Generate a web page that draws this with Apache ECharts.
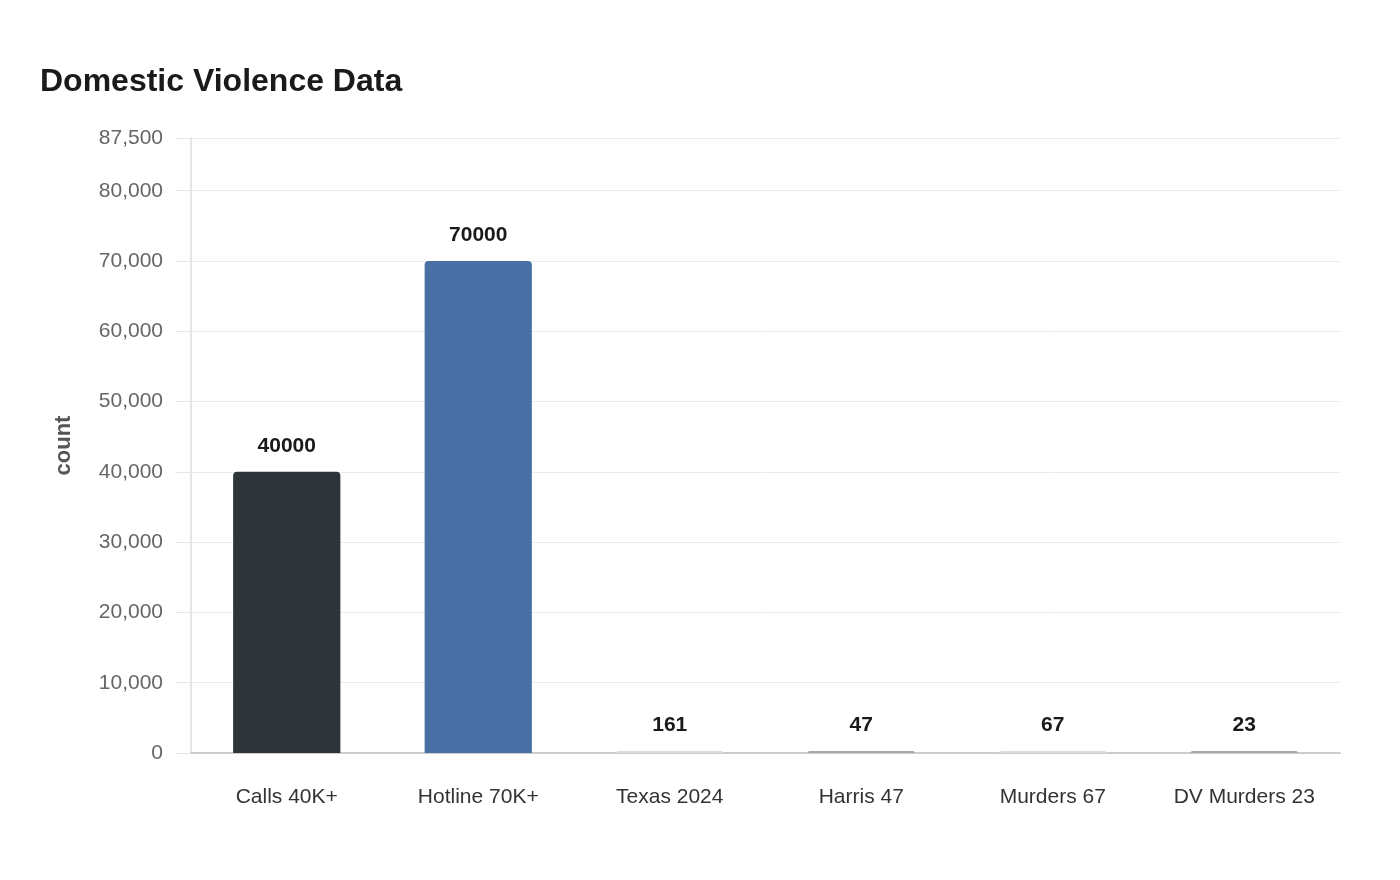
<!DOCTYPE html>
<html>
<head>
<meta charset="utf-8">
<title>Domestic Violence Data</title>
<script src="https://cdn.jsdelivr.net/npm/echarts@6/dist/echarts.min.js"></script>
<style>
	html, body { margin: 0; padding: 0; background: #fff; }
	#chart { width: 1400px; height: 880px; }
</style>
</head>
<body>
<div id="chart"></div>
<script>
// data
var categories = ['Calls 40K+', 'Hotline 70K+', 'Texas 2024', 'Harris 47', 'Murders 67', 'DV Murders 23'];
var counts = [40000, 70000, 161, 47, 67, 23];
var barColors = ['#2e3538', '#4a6fa5', '#dcdcdc', '#a8a8a8', '#dcdcdc', '#a8a8a8'];

var chart = echarts.init(document.getElementById('chart'));

var option = {
	animation: false,
	textStyle: {
		fontFamily: "'Liberation Sans', Arial, sans-serif"
	},
	title: {
		text: 'Domestic Violence Data',
		left: 40,
		top: 66,
		padding: 0,
		textStyle: {
			fontFamily: "'Liberation Sans', Arial, sans-serif",
			fontSize: 32,
			fontWeight: 'bold',
			color: '#1a1a1a'
		}
	},
	grid: {
		left: 191,
		right: 60,
		top: 138,
		bottom: 127
	},
	xAxis: {
		type: 'category',
		data: categories,
		axisLine: { lineStyle: { color: '#cccccc', width: 2 } },
		axisTick: { show: false },
		axisLabel: {
			fontSize: 21,
			color: '#333333',
			margin: 34
		}
	},
	yAxis: {
		type: 'value',
		min: 0,
		max: 87500,
		interval: 10000,
		name: 'count',
		nameLocation: 'middle',
		nameGap: 116,
		nameTextStyle: {
			fontSize: 22,
			fontWeight: 'bold',
			color: '#555555'
		},
		axisLine: { show: true, lineStyle: { color: '#e6e6e6', width: 2 } },
		axisTick: { show: true, length: 16, lineStyle: { color: '#e6e6e6' } },
		splitLine: { lineStyle: { color: '#ebebeb' } },
		axisLabel: {
			fontSize: 21,
			color: '#666666',
			margin: 28,
			formatter: function (v) {
				return v.toLocaleString('en-US');
			}
		}
	},
	series: [{
		type: 'bar',
		barWidth: '56%',
		barMinHeight: 2,
		data: counts.map(function (v, i) {
			return {
				value: v,
				itemStyle: { color: barColors[i] }
			};
		}),
		itemStyle: {
			borderRadius: [4, 4, 0, 0]
		},
		label: {
			show: true,
			position: 'top',
			distance: 15,
			fontSize: 21,
			fontWeight: 'bold',
			color: '#1a1a1a'
		}
	}]
};

chart.setOption(option);

window.onresize = function () {
	chart.resize();
};
</script>
</body>
</html>
